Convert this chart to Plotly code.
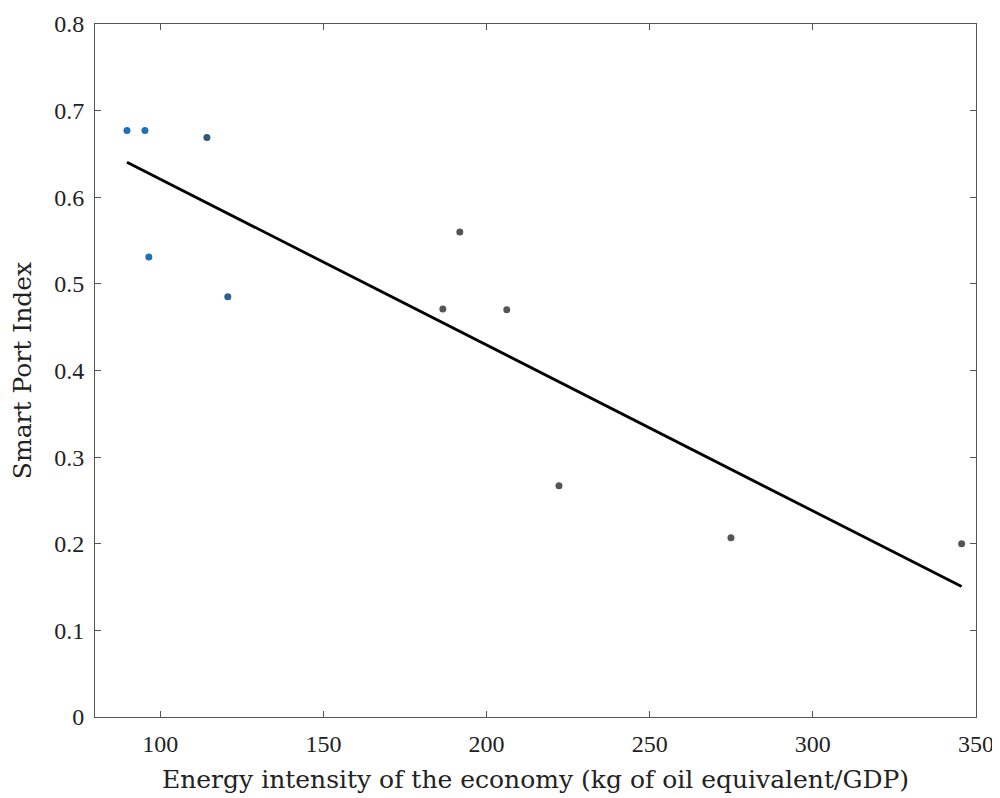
import numpy as np
import plotly.graph_objects as go

# Data
energy_blue = [89.8, 95.3, 96.5, 114.3, 120.7]
index_blue = [0.677, 0.677, 0.531, 0.669, 0.485]
colors_blue = ["#1f72b8", "#1f72b8", "#1f72b8", "#2f5878", "#2a5f92"]

energy_gray = [191.8, 186.6, 206.2, 222.2, 274.9, 345.6]
index_gray = [0.560, 0.471, 0.470, 0.267, 0.207, 0.200]

x_ticks = [100, 150, 200, 250, 300, 350]
y_ticks = [0, 0.1, 0.2, 0.3, 0.4, 0.5, 0.6, 0.7, 0.8]
y_tick_labels = ["0", "0.1", "0.2", "0.3", "0.4", "0.5", "0.6", "0.7", "0.8"]

all_x = np.array(energy_blue + energy_gray)
all_y = np.array(index_blue + index_gray)
slope, intercept = np.polyfit(all_x, all_y, 1)
fit_x = np.array([all_x.min(), all_x.max()])
fit_y = slope * fit_x + intercept

tick_font = "Liberation Serif, serif"
title_font = "DejaVu Serif, serif"

fig = go.Figure()
fig.add_trace(go.Scatter(x=energy_blue, y=index_blue, mode="markers",
                         marker=dict(size=7, color=colors_blue), showlegend=False))
fig.add_trace(go.Scatter(x=energy_gray, y=index_gray, mode="markers",
                         marker=dict(size=7, color="#555555"), showlegend=False))
fig.add_trace(go.Scatter(x=fit_x, y=fit_y, mode="lines",
                         line=dict(color="black", width=2.8), showlegend=False))

axis_common = dict(showgrid=False, zeroline=False, showline=True, linecolor="#555555",
                   linewidth=1, mirror="ticks", ticks="inside", ticklen=6,
                   tickcolor="#555555", automargin=False, ticklabelstandoff=5,
                   tickfont=dict(family=tick_font, size=24, color="#222222"))

# page body has an 8px margin, so the figure is sized/offset to compensate
fig.update_layout(
    width=992, height=790,
    margin=dict(l=87, r=24, t=16, b=81),
    plot_bgcolor="white", paper_bgcolor="white",
    xaxis=dict(range=[80, 350], tickvals=x_ticks,
               title=dict(text="Energy intensity of the economy (kg of oil equivalent/GDP)",
                          font=dict(family=title_font, size=25, color="#222222"), standoff=14),
               **axis_common),
    yaxis=dict(range=[0, 0.8], tickvals=y_ticks, ticktext=y_tick_labels,
               title=dict(text="Smart Port Index",
                          font=dict(family=title_font, size=25, color="#222222"), standoff=17),
               **axis_common),
)

fig.write_html("out.html")
